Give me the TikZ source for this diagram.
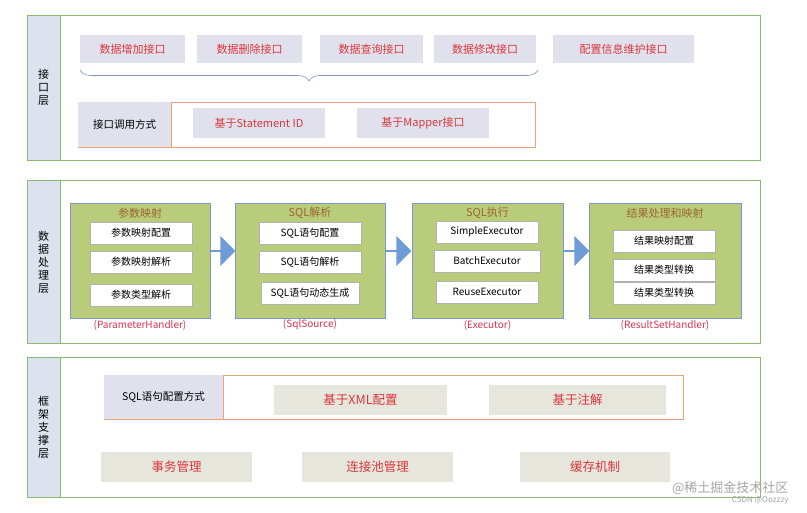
\documentclass[tikz,border=0pt]{standalone}
\usepackage{fontspec}
\setmainfont{Noto Sans CJK SC}
\usetikzlibrary{decorations.pathreplacing,shapes.arrows}
\definecolor{lgreen}{HTML}{8DB870}
\definecolor{lside}{HTML}{DCE2EE}
\definecolor{btn}{HTML}{E1E1EE}
\definecolor{btn2}{HTML}{E6E6DD}
\definecolor{rtxt}{HTML}{D8383C}
\definecolor{grp}{HTML}{B9CC79}
\definecolor{gbord}{HTML}{7B98C8}
\definecolor{orng}{HTML}{E9A27A}
\definecolor{arr}{HTML}{6F9BD8}
\begin{document}
\begin{tikzpicture}[x=1pt,y=-1pt,
 layer/.style={draw=lgreen,line width=0.8pt},
 side/.style={draw=lgreen,fill=lside,line width=0.8pt},
 btn/.style={fill=btn,text=rtxt,font=\fontsize{11}{11}\selectfont},
 btnb/.style={fill=btn2,text=rtxt,font=\fontsize{12.5}{12.5}\selectfont},
 grp/.style={fill=grp,draw=gbord,line width=0.8pt},
 wbox/.style={fill=white,draw=gray!60,line width=0.4pt,font=\fontsize{10}{10}\selectfont},
 gt/.style={text=brown!80!black,font=\fontsize{11}{11}\selectfont},
 hl/.style={text=rtxt!90!magenta,font=\fontsize{10}{10}\selectfont},
 sidetxt/.style={font=\fontsize{11}{13}\selectfont,align=center},
 bigarr/.style={single arrow,fill=arr,draw=none,minimum height=26pt,minimum width=30pt,single arrow head extend=3pt,inner sep=0pt,shape border rotate=0}]
\useasboundingbox (0,0) rectangle (807,513);
\fill[white] (0,0) rectangle (807,513);
% Layer 1
\draw[layer] (27,15) rectangle (760,160);
\filldraw[side] (27,15) rectangle (60,160);
\node[sidetxt] (l1) at (43.5,87) {接\\口\\层};
\foreach \n/\a/\b/\t in {b1/80/185/数据增加接口,b2/197/302/数据删除接口,b3/320/423/数据查询接口,b4/434/536/数据修改接口,b5/553/694/配置信息维护接口}
  \node[btn,minimum width=\b pt-\a pt,minimum height=28pt,inner sep=0pt] (\n) at ({(\a+\b)/2},49) {\t};
\draw[gbord,line width=0.6pt,decorate,decoration={brace,amplitude=11pt,mirror}] (80,70) -- (538,70);
\draw[orng,line width=0.8pt] (78,102) rectangle (535,147);
\fill[btn] (78.4,102.4) rectangle (171,146.6);
\draw[orng,line width=0.8pt] (171,102) -- (171,147);
\node[font=\fontsize{10.5}{10.5}\selectfont] (cm) at (124.5,125) {接口调用方式};
\node[btn,minimum width=132pt,minimum height=30pt,inner sep=0pt] (s1) at (259,123) {基于Statement ID};
\node[btn,minimum width=132pt,minimum height=30pt,inner sep=0pt] (s2) at (423,123) {基于Mapper接口};
% Layer 2
\draw[layer] (27,180) rectangle (760,343);
\filldraw[side] (27,180) rectangle (60,343);
\node[sidetxt] (l2) at (43.5,262) {数\\据\\处\\理\\层};
\foreach \n/\a/\b/\t/\h in {g1/70/210/参数映射/(ParameterHandler),g2/235/385/SQL解析/(SqlSource),g3/412/563/SQL执行/(Executor),g4/589/741/结果处理和映射/(ResultSetHandler)}{
  \filldraw[grp] (\a,203) rectangle (\b,318);
  \node[gt] (\n t) at ({(\a+\b)/2},213) {\t};
  \node[hl] (\n h) at ({(\a+\b)/2},325) {\h};
}
\foreach \n/\x/\y/\w/\t in {
 a1/141/233/102/参数映射配置, a2/141/262/102/参数映射解析, a3/141/295/102/参数类型解析,
 c1/310/233/102/SQL语句配置, c2/310/262/102/SQL语句解析, c3/310/293/98/SQL语句动态生成,
 d1/487/232/102/SimpleExecutor, d2/487/261/106/BatchExecutor, d3/487/292/102/ReuseExecutor,
 e1/664/241/102/结果映射配置, e2/664/270/102/结果类型转换, e3/664/293/102/结果类型转换}
  \node[wbox,minimum width=\w pt,minimum height=22pt,inner sep=0pt] (\n) at (\x,\y) {\t};
\node[bigarr] (ar1) at (222,251) {};
\node[bigarr] (ar2) at (398,251) {};
\node[bigarr] (ar3) at (576,251) {};
% Layer 3
\draw[layer] (27,357) rectangle (760,497);
\filldraw[side] (27,357) rectangle (60,497);
\node[sidetxt] (l3) at (43.5,427) {框\\架\\支\\撑\\层};
\draw[orng,line width=0.8pt] (104,375) rectangle (683,419);
\fill[btn] (104.4,375.4) rectangle (223,418.6);
\draw[orng,line width=0.8pt] (223,375) -- (223,419);
\node[font=\fontsize{10.5}{10.5}\selectfont] (sc) at (163.5,397) {SQL语句配置方式};
\node[btnb,minimum width=173pt,minimum height=30pt,inner sep=0pt] (x1) at (360.5,400) {基于XML配置};
\node[btnb,minimum width=177pt,minimum height=30pt,inner sep=0pt] (x2) at (577.5,400) {基于注解};
\node[btnb,minimum width=151pt,minimum height=30pt,inner sep=0pt] (f1) at (176.5,467) {事务管理};
\node[btnb,minimum width=151pt,minimum height=30pt,inner sep=0pt] (f2) at (377.5,467) {连接池管理};
\node[btnb,minimum width=150pt,minimum height=30pt,inner sep=0pt] (f3) at (595,467) {缓存机制};
\node[text=gray!70,font=\fontsize{13}{13}\selectfont,anchor=east] (wm) at (792,488) {@稀土掘金技术社区};
\node[text=gray!70,font=\fontsize{8}{8}\selectfont,anchor=east] (wm2) at (792,500) {CSDN @Oozzzy};
\end{tikzpicture}
\end{document}
